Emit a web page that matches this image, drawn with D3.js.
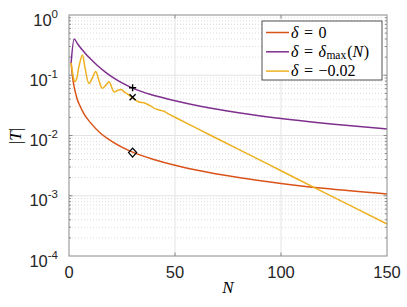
<!DOCTYPE html>
<html>
<head>
<meta charset="utf-8">
<script src="https://cdn.jsdelivr.net/npm/d3@7"></script>
<style>
  body { margin: 0; background: #fff; }
  text { font-family: "Liberation Sans", Arial, sans-serif; fill: #262626; }
  .tex { font-family: "Liberation Serif", "Times New Roman", serif; fill: #000; }
</style>
</head>
<body>
<script>
// delta = 0
const nZero = [1, 1.5, 2, 3, 4, 5, 7, 10, 15, 20, 30, 40, 50, 60, 80, 100, 120, 150];
const tZero = [0.16, 0.105, 0.078, 0.052, 0.039, 0.032, 0.023, 0.0165, 0.0108, 0.0081, 0.0053, 0.0040, 0.0032, 0.00267, 0.0020, 0.0016, 0.00133, 0.00107];

// delta = delta_max(N)
const nMax = [1, 2.4, 4, 5.5, 7.1, 10, 13.4, 17, 21.2, 25, 30, 38.5, 49.5, 62, 80, 104, 125, 150];
const tMax = [0.16, 0.40, 0.333, 0.284, 0.244, 0.189, 0.145, 0.114, 0.0895, 0.0745, 0.0612, 0.0478, 0.0382, 0.0306, 0.0238, 0.0184, 0.01534, 0.0128];

// delta = -0.02
const nNeg = [1, 2, 2.7, 3.5, 4.7, 6.3, 7.6, 9.4, 11, 12.6, 14.2, 15.7, 17.3, 18.9, 20, 21.2, 23, 24.7, 26, 27.5, 30, 33, 35.4, 37, 38.5, 40.5, 42.5, 44.8, 47, 49.5, 66.5, 80, 100, 120, 150];
const tNeg = [0.16, 0.095, 0.078, 0.085, 0.14, 0.217, 0.13, 0.073, 0.09, 0.115, 0.08, 0.061, 0.068, 0.078, 0.065, 0.053, 0.056, 0.058, 0.053, 0.049, 0.042, 0.036, 0.035, 0.033, 0.031, 0.028, 0.0265, 0.0253, 0.0228, 0.0205, 0.0102, 0.0059, 0.0026, 0.00115, 0.00034];

// markers at N = 30
const markN = 30;
const markPlus = 0.062, markCross = 0.043, markDiamond = 0.0052;

const xTicks = [0, 50, 100, 150];
const yExps = [0, -1, -2, -3, -4];

const width = 407, height = 307;
const pLeft = 69, pRight = 387, pTop = 15, pBottom = 256;

const svg = d3.select("body").append("svg")
    .attr("width", width)
    .attr("height", height);

const x = d3.scaleLinear().domain([0, 150]).range([pLeft, pRight]);
const y = d3.scaleLog().domain([1e-4, 1]).range([pBottom, pTop]);

// minor grid (dotted) on y
const minors = [];
for (let e = -4; e < 0; e++) {
    for (let k = 2; k <= 9; k++) minors.push(k * Math.pow(10, e));
}
svg.append("g").selectAll("line")
    .data(minors)
    .enter().append("line")
    .attr("x1", pLeft).attr("x2", pRight)
    .attr("y1", d => y(d)).attr("y2", d => y(d))
    .attr("stroke", "#d4d4d4")
    .attr("stroke-width", 0.8)
    .attr("stroke-dasharray", "1,2");

// major grid
svg.append("g").selectAll("line")
    .data(yExps.slice(1, 4))
    .enter().append("line")
    .attr("x1", pLeft).attr("x2", pRight)
    .attr("y1", d => y(Math.pow(10, d))).attr("y2", d => y(Math.pow(10, d)))
    .attr("stroke", "#e3e3e3");
svg.append("g").selectAll("line")
    .data([50, 100])
    .enter().append("line")
    .attr("x1", d => x(d)).attr("x2", d => x(d))
    .attr("y1", pTop).attr("y2", pBottom)
    .attr("stroke", "#e3e3e3");

// curves
const smooth = d3.line()
    .x(d => x(d[0]))
    .y(d => y(d[1]))
    .curve(d3.curveMonotoneX);
const wavy = d3.line()
    .x(d => x(d[0]))
    .y(d => y(d[1]))
    .curve(d3.curveCatmullRom.alpha(0.5));

const series = [
    { n: nZero, t: tZero, color: "#D95319", gen: smooth },
    { n: nMax, t: tMax, color: "#7E2F8E", gen: smooth },
    { n: nNeg, t: tNeg, color: "#EDB120", gen: wavy }
];
series.forEach(s => {
    svg.append("path")
        .datum(s.n.map((v, i) => [v, s.t[i]]))
        .attr("d", s.gen)
        .attr("fill", "none")
        .attr("stroke", s.color)
        .attr("stroke-width", 1.5);
});

// markers
const mx = x(markN);
const m = 3.6;
svg.append("path")
    .attr("d", `M${mx - m},${y(markPlus)}H${mx + m}M${mx},${y(markPlus) - m}V${y(markPlus) + m}`)
    .attr("stroke", "#000").attr("stroke-width", 1.4).attr("fill", "none");
svg.append("path")
    .attr("d", `M${mx - 3},${y(markCross) - 3}L${mx + 3},${y(markCross) + 3}M${mx - 3},${y(markCross) + 3}L${mx + 3},${y(markCross) - 3}`)
    .attr("stroke", "#000").attr("stroke-width", 1.4).attr("fill", "none");
const dy0 = y(markDiamond);
svg.append("path")
    .attr("d", `M${mx},${dy0 - 4.5}L${mx + 4},${dy0}L${mx},${dy0 + 4.5}L${mx - 4},${dy0}Z`)
    .attr("stroke", "#000").attr("stroke-width", 1.3).attr("fill", "none");

// axes box
const axisColor = "#8a8a8a";
svg.append("rect")
    .attr("x", pLeft).attr("y", pTop)
    .attr("width", pRight - pLeft).attr("height", pBottom - pTop)
    .attr("fill", "none").attr("stroke", axisColor).attr("stroke-width", 1);

// ticks
const tickG = svg.append("g").attr("stroke", axisColor).attr("stroke-width", 1);
[50, 100].forEach(v => {
    tickG.append("line").attr("x1", x(v)).attr("x2", x(v)).attr("y1", pBottom).attr("y2", pBottom - 3.5);
    tickG.append("line").attr("x1", x(v)).attr("x2", x(v)).attr("y1", pTop).attr("y2", pTop + 3.5);
});
yExps.slice(1, 4).forEach(e => {
    const yy = y(Math.pow(10, e));
    tickG.append("line").attr("x1", pLeft).attr("x2", pLeft + 3.5).attr("y1", yy).attr("y2", yy);
    tickG.append("line").attr("x1", pRight).attr("x2", pRight - 3.5).attr("y1", yy).attr("y2", yy);
});
minors.forEach(v => {
    const yy = y(v);
    tickG.append("line").attr("x1", pLeft).attr("x2", pLeft + 2).attr("y1", yy).attr("y2", yy);
    tickG.append("line").attr("x1", pRight).attr("x2", pRight - 2).attr("y1", yy).attr("y2", yy);
});

// x tick labels
svg.append("g").selectAll("text")
    .data(xTicks)
    .enter().append("text")
    .attr("x", d => x(d))
    .attr("y", pBottom + 22)
    .attr("text-anchor", "middle")
    .style("font-size", "16.5px")
    .text(d => d);

// y tick labels
const yl = svg.append("g").selectAll("text")
    .data(yExps)
    .enter().append("text")
    .attr("x", pLeft - 11)
    .attr("y", d => y(Math.pow(10, d)) + 10.5)
    .attr("text-anchor", "end")
    .style("font-size", "16.5px");
yl.append("tspan").text("10");
yl.append("tspan")
    .attr("dy", -8)
    .style("font-size", "11.5px")
    .text(d => d === 0 ? "0" : "-" + Math.abs(d));

// axis labels
svg.append("text")
    .attr("class", "tex")
    .attr("x", (pLeft + pRight) / 2)
    .attr("y", 293)
    .attr("text-anchor", "middle")
    .style("font-size", "17px")
    .style("font-style", "italic")
    .text("N");

const yLab = svg.append("text")
    .attr("class", "tex")
    .attr("transform", "translate(21,136) rotate(-90)")
    .attr("text-anchor", "middle")
    .style("font-size", "17px");
yLab.append("tspan").text("|");
yLab.append("tspan").style("font-style", "italic").text("T");
yLab.append("tspan").text("|");

// legend
const legX = 262, legY = 21, legW = 120, legH = 59;
const leg = svg.append("g");
leg.append("rect")
    .attr("x", legX).attr("y", legY)
    .attr("width", legW).attr("height", legH)
    .attr("fill", "#fff").attr("stroke", "#262626").attr("stroke-width", 0.8);

// [text, style, dx before]
const legendRows = [
    { color: "#D95319", parts: [["δ", "i", 0], ["=", "", 5.5], ["0", "", 5.5]] },
    { color: "#7E2F8E", parts: [["δ", "i", 0], ["=", "", 5.5], ["δ", "i", 5.5], ["max", "sub", 0.5], ["(", "", 1], ["N", "i", 0], [")", "", 0.5]] },
    { color: "#EDB120", parts: [["δ", "i", 0], ["=", "", 5.5], ["−0.02", "", 5.5]] }
];
legendRows.forEach((r, i) => {
    const ly = legY + 11.5 + i * 19.3;
    leg.append("line")
        .attr("x1", 266).attr("x2", 289)
        .attr("y1", ly).attr("y2", ly)
        .attr("stroke", r.color).attr("stroke-width", 1.5);
    const t = leg.append("text")
        .attr("class", "tex")
        .attr("x", 291)
        .attr("y", ly + 5)
        .style("font-size", "16px");
    let sub = false;
    r.parts.forEach(p => {
        const ts = t.append("tspan").attr("dx", p[2]).text(p[0]);
        if (p[1] === "i") ts.style("font-style", "italic");
        if (p[1] === "sub") {
            ts.attr("dy", 2.5).style("font-size", "11.5px");
            sub = true;
        } else if (sub) {
            ts.attr("dy", -2.5);
            sub = false;
        }
    });
});
</script>
</body>
</html>
